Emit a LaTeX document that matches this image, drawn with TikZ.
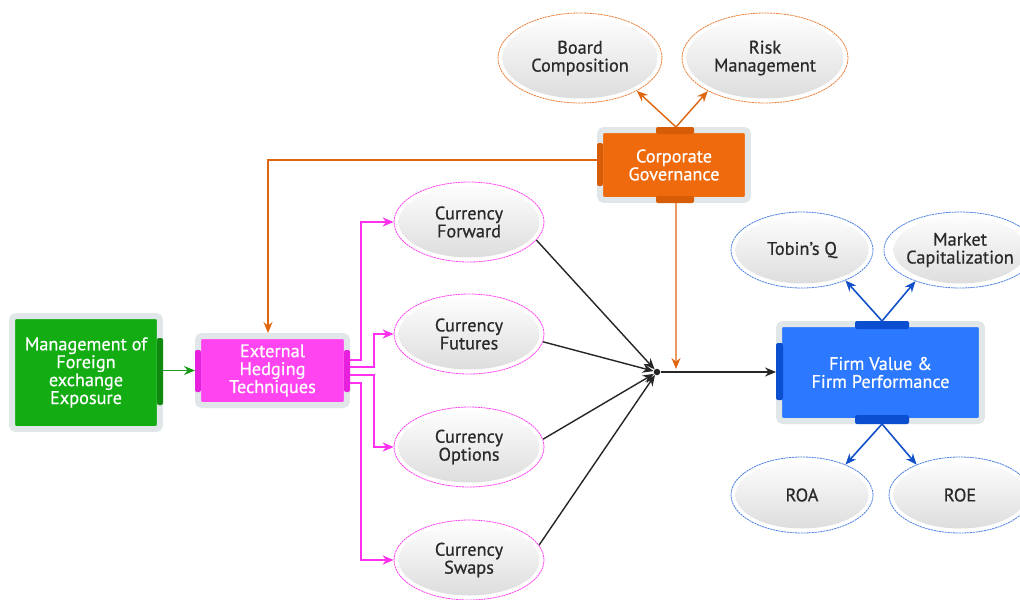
\documentclass[tikz,border=0pt]{standalone}
\usepackage{fontspec}
\setmainfont{PT Sans}
\newfontfamily\medfont{PT Sans}[FakeBold=0.6]
\usetikzlibrary{arrows.meta,shapes.geometric,calc}
\definecolor{frame}{HTML}{E1E6E9}
\definecolor{mgreen}{HTML}{13AD13}
\definecolor{tgreen}{HTML}{0F8A0F}
\definecolor{mmag}{HTML}{FF44F0}
\definecolor{tmag}{HTML}{E620DC}
\definecolor{morange}{HTML}{EE6A0C}
\definecolor{torange}{HTML}{D65C06}
\definecolor{mblue}{HTML}{2C78FF}
\definecolor{tblue}{HTML}{0B4FD0}
\definecolor{emag}{HTML}{FF40F0}
\definecolor{eorange}{HTML}{E8803A}
\definecolor{eblue}{HTML}{4A80E0}
\definecolor{txt}{HTML}{2A2A2A}
\definecolor{lgreen}{HTML}{1A9A1A}
\definecolor{lmag}{HTML}{FF30EE}
\definecolor{lorange}{HTML}{E0650F}
\definecolor{lblue}{HTML}{1150C8}
\tikzset{
  box/.style={rectangle, draw=frame, line width=0.12cm, rounded corners=0.08cm,
    text=white, align=center, inner sep=0pt, outer sep=0.06cm,
    font=\medfont\fontsize{10.4}{10.2}\selectfont},
  ell/.style n args={3}{ellipse, draw=#3, dash pattern=on 1.2pt off 0.4pt, line width=0.45pt,
    fill=white, minimum width=#1, minimum height=#2, inner sep=0pt, text=txt, align=center,
    font=\medfont\fontsize{10.4}{10.2}\selectfont,
    path picture={\shade[top color=white, bottom color=black!14]
      (path picture bounding box.center) ellipse [x radius=#1/2-0.09cm, y radius=#2/2-0.09cm];}},
  tip/.style={-{Stealth[length=0.22cm,width=0.18cm]}},
  garrow/.style={tip, draw=lgreen, line width=0.8pt},
  marrow/.style={tip, draw=lmag, line width=0.9pt},
  oarrow/.style={tip, draw=lorange, line width=0.8pt},
  blarrow/.style={tip, draw=lblue, line width=0.9pt},
  barrow/.style={tip, draw=black!85, line width=0.8pt},
}
\begin{document}
\begin{tikzpicture}[x=0.02cm, y=-0.02cm]
\clip (0,0) rectangle (1020,599);
\fill[white] (0,0) rectangle (1020,599);

% main boxes
\node[box, fill=mgreen, minimum width=2.96cm, minimum height=2.26cm] (mgmt) at (86,372.5) {Management of\\Foreign\\exchange\\Exposure};
\node[box, fill=mmag, minimum width=2.98cm, minimum height=1.38cm] (ext) at (272.5,370.5) {External\\Hedging\\Techniques};
\node[box, fill=morange, minimum width=2.96cm, minimum height=1.40cm] (cg) at (674,165) {Corporate\\Governance};
\node[box, fill=mblue, minimum width=4.06cm, minimum height=1.94cm] (firm) at (880.5,372.5) {Firm Value \&\\Firm Performance};

% tabs
\fill[tgreen, rounded corners=0.04cm] (157,338) rectangle (163,405);
\fill[tmag, rounded corners=0.04cm] (195,350) rectangle (201,392);
\fill[tmag, rounded corners=0.04cm] (344,350) rectangle (350,392);
\fill[torange, rounded corners=0.04cm] (656,127) rectangle (694,134);
\fill[torange, rounded corners=0.04cm] (656,196) rectangle (694,203);
\fill[torange, rounded corners=0.04cm] (597,143) rectangle (603,186);
\fill[tblue, rounded corners=0.04cm] (855,321) rectangle (909,329);
\fill[tblue, rounded corners=0.04cm] (855,415) rectangle (909,424);
\fill[tblue, rounded corners=0.04cm] (776,343) rectangle (783,400);

% ellipses
\node[ell={3.28cm}{1.80cm}{eorange}] (board) at (580,58) {Board\\Composition};
\node[ell={3.32cm}{1.80cm}{eorange}] (risk) at (765,58) {Risk\\Management};
\node[ell={3.0cm}{1.6cm}{emag}] (fwd) at (469,222) {Currency\\Forward};
\node[ell={3.0cm}{1.6cm}{emag}] (fut) at (469,334) {Currency\\Futures};
\node[ell={3.0cm}{1.6cm}{emag}] (opt) at (469,447) {Currency\\Options};
\node[ell={3.0cm}{1.6cm}{emag}] (swp) at (469,560) {Currency\\Swaps};
\node[ell={2.84cm}{1.52cm}{eblue}] (tobin) at (802,250) {Tobin’s Q};
\node[ell={2.84cm}{1.52cm}{eblue}] (market) at (960,250) {Market\\Capitalization};
\node[ell={2.84cm}{1.52cm}{eblue}] (roa) at (802,495) {ROA};
\node[ell={2.84cm}{1.52cm}{eblue}] (roe) at (960,495) {ROE};

% hub
\node[circle, fill=black!85, inner sep=0pt, minimum size=0.13cm] (hub) at (657,372) {};
\coordinate (cgend) at (676,369);

% connectors
\draw[garrow] (mgmt.east |- ext.west) -- (ext.west);
\draw[marrow] ([yshift=0.21cm]ext.east) -- ++(11,0) |- (fwd.west);
\draw[marrow] ([yshift=0.07cm]ext.east) -- ++(24,0) |- (fut.west);
\draw[marrow] ([yshift=-0.09cm]ext.east) -- ++(24,0) |- (opt.west);
\draw[marrow] ([yshift=-0.25cm]ext.east) -- ++(11,0) |- (swp.west);
\draw[barrow] (fwd.-15) -- (hub);
\draw[barrow] (fut.-6) -- (hub);
\draw[barrow] (opt.6) -- (hub);
\draw[barrow] (swp.12) -- (hub);
\draw[barrow] (hub) -- (firm.west |- hub);
\draw[oarrow] ([yshift=0.1cm]cg.west) -| ([xshift=-0.09cm]ext.north);
\draw[oarrow] ([xshift=0.04cm]cg.south) -- (cgend);
\draw[oarrow] ([xshift=0.04cm]cg.north) -- (board.-30);
\draw[oarrow] ([xshift=0.04cm]cg.north) -- (risk.-150);
\draw[blarrow] ([xshift=0.03cm]firm.north) -- (tobin.-35);
\draw[blarrow] ([xshift=0.03cm]firm.north) -- (market.-145);
\draw[blarrow] ([xshift=0.03cm]firm.south) -- (roa.35);
\draw[blarrow] ([xshift=0.03cm]firm.south) -- (roe.145);
\end{tikzpicture}
\end{document}
